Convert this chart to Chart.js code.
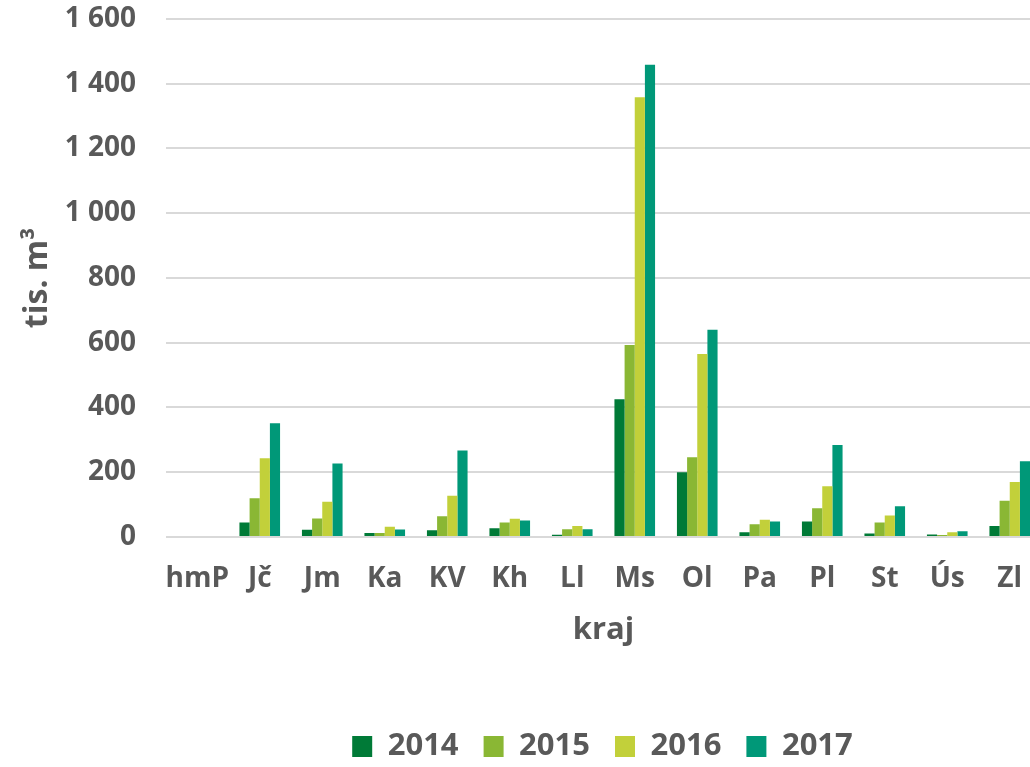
<!DOCTYPE html>
<html lang="cs">
<head>
<meta charset="utf-8">
<title>tis. m3 podle krajů</title>
<script src="https://cdn.jsdelivr.net/npm/chart.js@4/dist/chart.umd.min.js"></script>
<style>
  html, body { margin: 0; padding: 0; background: #fff; overflow: hidden; }
  /* plátno je širší než okno: graf v originále přesahuje pravý okraj */
  #wrap { position: relative; width: 1214px; height: 767px; }
</style>
</head>
<body>
<div id="wrap"><canvas id="chart"></canvas></div>
<script>
// ── Data ──────────────────────────────────────────────────────────────────────
const kraje = ['hmP', 'Jč', 'Jm', 'Ka', 'KV', 'Kh', 'Ll', 'Ms', 'Ol', 'Pa', 'Pl', 'St', 'Ús', 'Zl'];
const roky  = ['2014', '2015', '2016', '2017'];

const v2014 = [0, 45,  22, 12,  21, 27,  7,  425, 200, 15, 48,  11,  8, 34];
const v2015 = [0, 120, 57, 12,  64, 45,  24, 593, 246, 39, 89,  45,  6, 112];
const v2016 = [0, 243, 109, 32, 127, 56, 34, 1358, 565, 53, 157, 66, 15, 170];
const v2017 = [0, 351, 227, 23, 267, 51, 24, 1458, 640, 48, 284, 95, 18, 234];

const yTicks = [0, 200, 400, 600, 800, 1000, 1200, 1400, 1600];

// ── Styl ──────────────────────────────────────────────────────────────────────
const COLORS = ['#007a37', '#8ab734', '#c2d03a', '#009878'];
const TEXT   = '#595959';
const FONT   = '"Open Sans", "Liberation Sans", sans-serif';

const fmt = n => String(n).replace(/\B(?=(\d{3})+(?!\d))/g, ' ');

// legenda je v originále vystředěná pod celou plochou grafu (i pod přesahem)
const legendaNaStred = {
  id: 'legendaNaStred',
  beforeDraw(chart) {
    chart.legend.left = 0;
    chart.legend.right = 1205;
  },
};

// ── Graf ──────────────────────────────────────────────────────────────────────
new Chart(document.getElementById('chart'), {
  type: 'bar',
  data: {
    labels: kraje,
    datasets: [v2014, v2015, v2016, v2017].map((d, i) => ({
      label: roky[i],
      data: d,
      backgroundColor: COLORS[i],
      borderWidth: 0,
      barPercentage: 1,
      categoryPercentage: 0.65,
    })),
  },
  plugins: [legendaNaStred],
  options: {
    responsive: true,
    maintainAspectRatio: false,
    animation: false,
    layout: { padding: { top: 0, right: 173, left: 0, bottom: -5 } },
    plugins: {
      tooltip: { enabled: false },
      legend: {
        position: 'bottom',
        labels: {
          color: TEXT,
          font: { family: FONT, size: 31, weight: 'bold' },
          boxWidth: 20,
          boxHeight: 21,
          padding: 25,
        },
      },
    },
    scales: {
      x: {
        afterFit: axis => { axis.height = 169; },
        grid: { display: false, drawTicks: false },
        border: { display: false },
        ticks: {
          color: TEXT,
          padding: 25,
          maxRotation: 0,
          autoSkip: false,
          font: { family: FONT, size: 28, weight: 'bold' },
        },
        title: {
          display: true,
          text: 'kraj',
          color: TEXT,
          padding: { top: 0, bottom: 57 },
          font: { family: FONT, size: 31, weight: 'bold' },
        },
      },
      y: {
        min: 0,
        max: 1600,
        afterBuildTicks: axis => { axis.ticks = yTicks.map(v => ({ value: v })); },
        afterFit: axis => { axis.width = 166; },
        grid: { color: '#d9d9d9', lineWidth: 2, drawTicks: true, tickLength: 28, tickColor: 'rgba(0,0,0,0)' },
        border: { display: false },
        ticks: {
          color: TEXT,
          padding: 2,
          callback: v => fmt(v),
          font: { family: FONT, size: 28, weight: 'bold' },
        },
        title: {
          display: true,
          text: 'tis. m³',
          color: TEXT,
          padding: { top: 19, bottom: 0 },
          font: { family: FONT, size: 32, weight: 'bold' },
        },
      },
    },
  },
});
</script>
</body>
</html>
